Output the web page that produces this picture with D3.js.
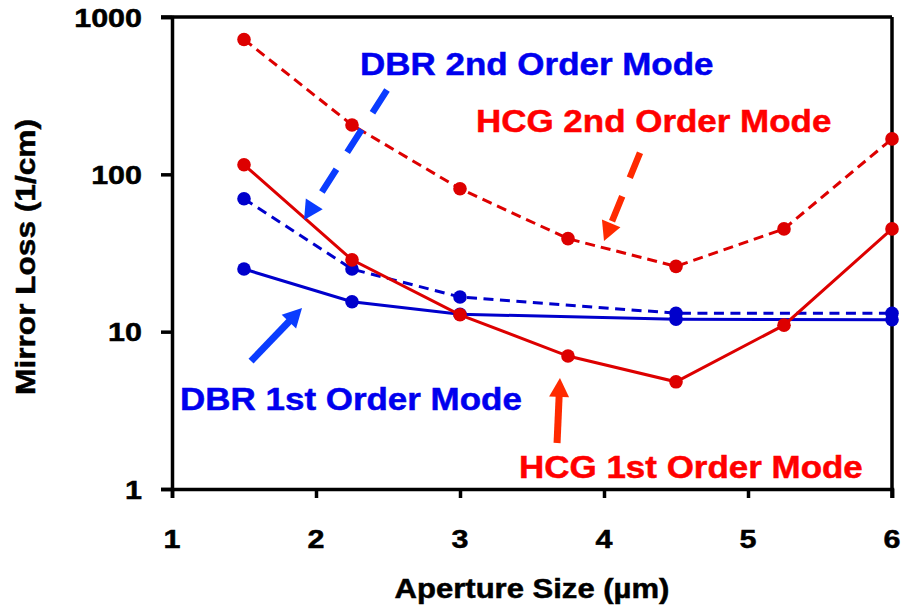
<!DOCTYPE html>
<html>
<head>
<meta charset="utf-8">
<script src="https://cdn.jsdelivr.net/npm/d3@7"></script>
<style>
  html, body { margin: 0; padding: 0; background: #fff; }
  svg { display: block; }
  text { font-family: "Liberation Sans", Arial, Helvetica, sans-serif; font-weight: bold; }
</style>
</head>
<body>
<svg id="chart" width="909" height="608"></svg>
<script>
// Aperture sizes (µm) and mirror loss (1/cm) for each mode
const apertures = [1.5, 2.25, 3, 3.75, 4.5, 5.25, 6];
const hcg2nd = [720, 206, 81, 39, 26, 45, 168];
const hcg1st = [115, 28.6, 12.8, 7.0, 4.8, 11.0, 45];

const dbrApertures = [1.5, 2.25, 3, 4.5, 6];
const dbr2nd = [70, 25, 16.6, 13.1, 13.1];
const dbr1st = [25, 15.5, 12.9, 12.0, 11.9];

const xTicks = [1, 2, 3, 4, 5, 6];
const yTicks = [1, 10, 100, 1000];

const svg = d3.select("#chart");
const W = 909, H = 608;
const margin = { left: 172, right: 17, top: 17, bottom: 119 };

const x = d3.scaleLinear().domain([1, 6]).range([margin.left, W - margin.right]);
const y = d3.scaleLog().domain([1, 1000]).range([H - margin.bottom, margin.top]);

const BLUE = "#0000cc", RED = "#dd0000";
const BLUE_ARROW = "#0a3cff", RED_ARROW = "#ff2a00";

// Text drawn with a slight horizontal stretch and a fine outline for weight
function label(px, py, str, size, color, anchor, rotate, stretch) {
  const sx = stretch || 1.15;
  return svg.append("text")
    .attr("transform", `translate(${px},${py})` + (rotate ? ` rotate(${rotate})` : "") + ` scale(${sx},1)`)
    .attr("text-anchor", anchor || "start")
    .attr("font-size", size)
    .attr("fill", color || "#000")
    .attr("stroke", color || "#000")
    .attr("stroke-width", 0.5)
    .text(str);
}

// Frame: top and right edges
svg.append("line").attr("x1", x(1) - 11).attr("x2", x(6)).attr("y1", y(1000)).attr("y2", y(1000))
  .attr("stroke", "#000").attr("stroke-width", 3.5);
svg.append("line").attr("x1", x(6)).attr("x2", x(6)).attr("y1", y(1000)).attr("y2", y(1) + 9)
  .attr("stroke", "#000").attr("stroke-width", 3.5);

// Axes
const yAxis = svg.append("g").attr("transform", `translate(${x(1)},0)`)
  .call(d3.axisLeft(y).tickValues(yTicks).tickSize(11).tickFormat(d3.format("d")));
const xAxis = svg.append("g").attr("transform", `translate(0,${y(1)})`)
  .call(d3.axisBottom(x).tickValues(xTicks).tickSize(9).tickFormat(d3.format("d")));

[yAxis, xAxis].forEach(g => {
  g.select(".domain").attr("stroke", "#000").attr("stroke-width", 3.5);
  g.selectAll(".tick line").attr("stroke", "#000").attr("stroke-width", 3.5);
  g.selectAll(".tick text").remove();
});

yTicks.forEach(v => label(x(1) - 30, y(v) + 9.5, d3.format("d")(v), 26.5, "#000", "end"));
xTicks.forEach(v => label(x(v), y(1) + 59, d3.format("d")(v), 26.5, "#000", "middle"));

// Axis titles
label((x(1) + x(6)) / 2, 598, "Aperture Size (µm)", 27, "#000", "middle");
label(35, (y(1) + y(1000)) / 2 + 4, "Mirror Loss (1/cm)", 27.5, "#000", "middle", -90);

// Series
const series = [
  { xs: dbrApertures, ys: dbr2nd, color: BLUE, dash: "10,6.5" },
  { xs: dbrApertures, ys: dbr1st, color: BLUE, dash: null },
  { xs: apertures, ys: hcg2nd, color: RED, dash: "10,6" },
  { xs: apertures, ys: hcg1st, color: RED, dash: null }
];

const line = d3.line().x(d => x(d[0])).y(d => y(d[1]));

series.forEach(s => {
  const pts = s.xs.map((v, i) => [v, s.ys[i]]);
  svg.append("path").datum(pts)
    .attr("d", line)
    .attr("fill", "none")
    .attr("stroke", s.color)
    .attr("stroke-width", 3)
    .attr("stroke-dasharray", s.dash);
  svg.append("g").selectAll("circle").data(pts).join("circle")
    .attr("cx", d => x(d[0])).attr("cy", d => y(d[1]))
    .attr("r", 6.8).attr("fill", s.color);
});

// Annotation arrows (data coordinates)
const arrows = [
  { from: [2.493, 344], to: [1.917, 51.3], color: BLUE_ARROW, dash: "27,20", width: 6.5 },
  { from: [4.25, 137], to: [4.0, 37.7], color: RED_ARROW, dash: "27,20", width: 6.5 },
  { from: [1.549, 6.5], to: [1.903, 14.15], color: BLUE_ARROW, dash: null, width: 7 },
  { from: [3.674, 1.96], to: [3.694, 5.08], color: RED_ARROW, dash: null, width: 7 }
];

arrows.forEach(a => {
  const x0 = x(a.from[0]), y0 = y(a.from[1]);
  const x1 = x(a.to[0]), y1 = y(a.to[1]);
  const dx = x1 - x0, dy = y1 - y0, len = Math.hypot(dx, dy);
  const ux = dx / len, uy = dy / len;
  const headL = 19, headW = 10;
  const bx = x1 - ux * headL, by = y1 - uy * headL;
  svg.append("line")
    .attr("x1", x0).attr("y1", y0)
    .attr("x2", x1 - ux * (headL - 2)).attr("y2", y1 - uy * (headL - 2))
    .attr("stroke", a.color).attr("stroke-width", a.width)
    .attr("stroke-dasharray", a.dash);
  svg.append("polygon")
    .attr("points", [[x1, y1], [bx - uy * headW, by + ux * headW], [bx + uy * headW, by - ux * headW]].map(p => p.join(",")).join(" "))
    .attr("fill", a.color);
});

// Annotation labels
label(x(2.306), y(428), "DBR 2nd Order Mode", 31.5, "#0000ee", "start", null, 1.11);
label(x(3.111), y(186), "HCG 2nd Order Mode", 31.5, "#ff0000", "start", null, 1.11);
label(x(1.056), y(3.18), "DBR 1st Order Mode", 31.5, "#0000ee", "start", null, 1.11);
label(x(3.41), y(1.175), "HCG 1st Order Mode", 31.5, "#ff0000", "start", null, 1.11);
</script>
</body>
</html>
